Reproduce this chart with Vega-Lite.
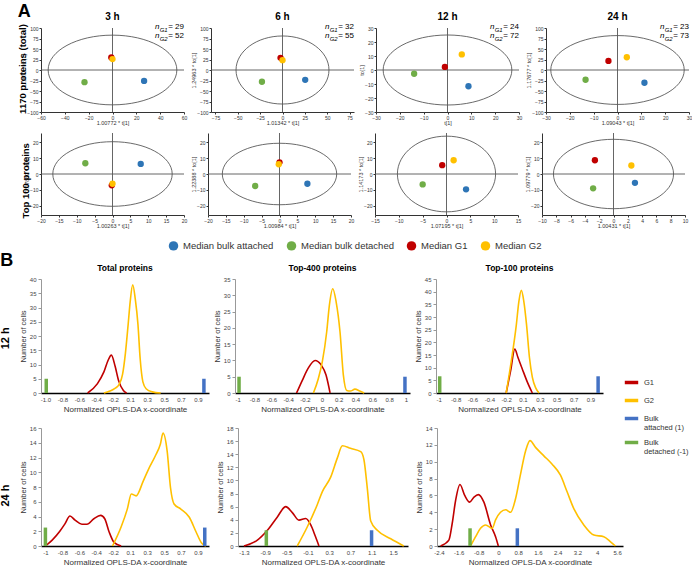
{
"$schema": "https://vega.github.io/schema/vega-lite/v6.json",
"background": "white",
"padding": {"left": 0, "top": 3, "right": 0, "bottom": 0},
"config": {
  "font": "Liberation Sans",
  "view": {"stroke": null},
  "axis": {"grid": false, "labelFlush": false, "labelOverlap": false, "tickCount": 12, "labelFontSize": 5, "titleFontSize": 5.5, "titleFontWeight": "normal", "tickSize": 2, "labelPadding": 1, "titlePadding": 0.5, "domainColor": "#333", "tickColor": "#333", "labelColor": "#333", "titleColor": "#333"},
  "style": {
    "bx": {"labelFontSize": 6, "titleFontSize": 8, "domainColor": "#000", "domainWidth": 1.5, "ticks": false, "labelPadding": 3, "titlePadding": 3, "labelColor": "#444", "titleColor": "#333"},
    "by": {"labelFontSize": 6, "titleFontSize": 7.5, "domainColor": "#999", "tickColor": "#999", "tickSize": 3, "labelPadding": 2, "titlePadding": 2, "labelColor": "#444", "titleColor": "#333"}
  },
  "legend": {"layout": {"bottom": {"anchor": "middle"}, "right": {"anchor": "middle"}}},
  "title": {"color": "#000"}
},
"datasets": {
  "A": [
    {"time":"3 h","set":"total","group":"Median bulk attached","t":26.5,"to":-26},
    {"time":"3 h","set":"total","group":"Median bulk detached","t":-23.5,"to":-29},
    {"time":"3 h","set":"total","group":"Median G1","t":-1,"to":30},
    {"time":"3 h","set":"total","group":"Median G2","t":0,"to":26},
    {"time":"6 h","set":"total","group":"Median bulk attached","t":25.4,"to":-23.5},
    {"time":"6 h","set":"total","group":"Median bulk detached","t":-23,"to":-28},
    {"time":"6 h","set":"total","group":"Median G1","t":-2.2,"to":29},
    {"time":"6 h","set":"total","group":"Median G2","t":0,"to":23.5},
    {"time":"12 h","set":"total","group":"Median bulk attached","t":8.8,"to":-11.6},
    {"time":"12 h","set":"total","group":"Median bulk detached","t":-14,"to":-2.7},
    {"time":"12 h","set":"total","group":"Median G1","t":-1.1,"to":2.2},
    {"time":"12 h","set":"total","group":"Median G2","t":6,"to":11.1},
    {"time":"24 h","set":"total","group":"Median bulk attached","t":11.3,"to":-30.4},
    {"time":"24 h","set":"total","group":"Median bulk detached","t":-13.4,"to":-23.2},
    {"time":"24 h","set":"total","group":"Median G1","t":-3.8,"to":21.6},
    {"time":"24 h","set":"total","group":"Median G2","t":3.9,"to":30.4},
    {"time":"3 h","set":"top100","group":"Median bulk attached","t":7.9,"to":6.4},
    {"time":"3 h","set":"top100","group":"Median bulk detached","t":-7.6,"to":6.8},
    {"time":"3 h","set":"top100","group":"Median G1","t":-0.2,"to":-7.2},
    {"time":"3 h","set":"top100","group":"Median G2","t":0,"to":-6.2},
    {"time":"6 h","set":"top100","group":"Median bulk attached","t":7.8,"to":-6.2},
    {"time":"6 h","set":"top100","group":"Median bulk detached","t":-6.8,"to":-7.6},
    {"time":"6 h","set":"top100","group":"Median G1","t":0,"to":7.4},
    {"time":"6 h","set":"top100","group":"Median G2","t":-0.2,"to":6.2},
    {"time":"12 h","set":"top100","group":"Median bulk attached","t":4.1,"to":-9.7},
    {"time":"12 h","set":"top100","group":"Median bulk detached","t":-5,"to":-6.6},
    {"time":"12 h","set":"top100","group":"Median G1","t":-0.9,"to":5.6},
    {"time":"12 h","set":"top100","group":"Median G2","t":1.5,"to":8.7},
    {"time":"24 h","set":"top100","group":"Median bulk attached","t":3,"to":-5.6},
    {"time":"24 h","set":"top100","group":"Median bulk detached","t":-2.85,"to":-9.1},
    {"time":"24 h","set":"top100","group":"Median G1","t":-2.6,"to":8.7},
    {"time":"24 h","set":"top100","group":"Median G2","t":2.5,"to":5.4}
  ],
  "E": [
    {"time":"3 h","set":"total","t":0,"to":0},
    {"time":"6 h","set":"total","t":0,"to":0},
    {"time":"12 h","set":"total","t":0,"to":0},
    {"time":"24 h","set":"total","t":0,"to":0},
    {"time":"3 h","set":"top100","t":0,"to":0},
    {"time":"6 h","set":"top100","t":0,"to":0},
    {"time":"12 h","set":"top100","t":0,"to":0},
    {"time":"24 h","set":"top100","t":0,"to":0}
  ],
  "N": [
    {"time":"3 h","grp":"G1","n":29},{"time":"3 h","grp":"G2","n":52},
    {"time":"6 h","grp":"G1","n":32},{"time":"6 h","grp":"G2","n":55},
    {"time":"12 h","grp":"G1","n":24},{"time":"12 h","grp":"G2","n":72},
    {"time":"24 h","grp":"G1","n":23},{"time":"24 h","grp":"G2","n":73}
  ],
  "curves": [
    {"panel":"12h total","series":"G1","pos":2.49,"cells":0},{"panel":"12h total","series":"G1","pos":3.07,"cells":3.3},{"panel":"12h total","series":"G1","pos":3.45,"cells":7.4},{"panel":"12h total","series":"G1","pos":3.7,"cells":11.5},{"panel":"12h total","series":"G1","pos":3.89,"cells":13.3},{"panel":"12h total","series":"G1","pos":4.12,"cells":9.2},{"panel":"12h total","series":"G1","pos":4.31,"cells":4.5},{"panel":"12h total","series":"G1","pos":4.6,"cells":0.9},{"panel":"12h total","series":"G1","pos":4.79,"cells":0},
    {"panel":"12h total","series":"G2","pos":3.45,"cells":0},{"panel":"12h total","series":"G2","pos":3.8,"cells":0.7},{"panel":"12h total","series":"G2","pos":4.1,"cells":1.6},{"panel":"12h total","series":"G2","pos":4.35,"cells":3},{"panel":"12h total","series":"G2","pos":4.55,"cells":6.5},{"panel":"12h total","series":"G2","pos":4.72,"cells":14},{"panel":"12h total","series":"G2","pos":4.88,"cells":24},{"panel":"12h total","series":"G2","pos":5.0,"cells":32},{"panel":"12h total","series":"G2","pos":5.15,"cells":38},{"panel":"12h total","series":"G2","pos":5.3,"cells":33},{"panel":"12h total","series":"G2","pos":5.46,"cells":24},{"panel":"12h total","series":"G2","pos":5.59,"cells":12},{"panel":"12h total","series":"G2","pos":5.75,"cells":3.9},{"panel":"12h total","series":"G2","pos":5.94,"cells":1.5},{"panel":"12h total","series":"G2","pos":6.3,"cells":0.4},{"panel":"12h total","series":"G2","pos":6.8,"cells":0},
    {"panel":"12h top400","series":"G1","pos":3.5,"cells":0},{"panel":"12h top400","series":"G1","pos":3.84,"cells":3.9},{"panel":"12h top400","series":"G1","pos":4.2,"cells":7.7},{"panel":"12h top400","series":"G1","pos":4.6,"cells":10},{"panel":"12h top400","series":"G1","pos":4.95,"cells":8.7},{"panel":"12h top400","series":"G1","pos":5.25,"cells":5.5},{"panel":"12h top400","series":"G1","pos":5.49,"cells":0},
    {"panel":"12h top400","series":"G2","pos":4.5,"cells":0},{"panel":"12h top400","series":"G2","pos":4.79,"cells":4.4},{"panel":"12h top400","series":"G2","pos":5.03,"cells":9.6},{"panel":"12h top400","series":"G2","pos":5.29,"cells":18.8},{"panel":"12h top400","series":"G2","pos":5.45,"cells":27},{"panel":"12h top400","series":"G2","pos":5.65,"cells":32},{"panel":"12h top400","series":"G2","pos":5.85,"cells":28},{"panel":"12h top400","series":"G2","pos":6.08,"cells":18.8},{"panel":"12h top400","series":"G2","pos":6.28,"cells":5.5},{"panel":"12h top400","series":"G2","pos":6.48,"cells":0.8},{"panel":"12h top400","series":"G2","pos":6.7,"cells":0.6},{"panel":"12h top400","series":"G2","pos":6.97,"cells":1.2},{"panel":"12h top400","series":"G2","pos":7.25,"cells":0.6},{"panel":"12h top400","series":"G2","pos":7.52,"cells":0},
    {"panel":"12h top100","series":"G1","pos":4.0,"cells":0},{"panel":"12h top100","series":"G1","pos":4.26,"cells":8.6},{"panel":"12h top100","series":"G1","pos":4.51,"cells":17.3},{"panel":"12h top100","series":"G1","pos":4.7,"cells":14},{"panel":"12h top100","series":"G1","pos":4.95,"cells":9.6},{"panel":"12h top100","series":"G1","pos":5.25,"cells":4.4},{"panel":"12h top100","series":"G1","pos":5.55,"cells":0},
    {"panel":"12h top100","series":"G2","pos":4.0,"cells":0},{"panel":"12h top100","series":"G2","pos":4.3,"cells":12.5},{"panel":"12h top100","series":"G2","pos":4.6,"cells":26.8},{"panel":"12h top100","series":"G2","pos":4.75,"cells":36},{"panel":"12h top100","series":"G2","pos":4.9,"cells":40.5},{"panel":"12h top100","series":"G2","pos":5.05,"cells":36},{"panel":"12h top100","series":"G2","pos":5.21,"cells":26.8},{"panel":"12h top100","series":"G2","pos":5.38,"cells":14},{"panel":"12h top100","series":"G2","pos":5.55,"cells":6.3},{"panel":"12h top100","series":"G2","pos":5.75,"cells":2},{"panel":"12h top100","series":"G2","pos":5.95,"cells":0},
    {"panel":"24h total","series":"G1","pos":0,"cells":0},{"panel":"24h total","series":"G1","pos":0.4,"cells":0.8},{"panel":"24h total","series":"G1","pos":0.85,"cells":2},{"panel":"24h total","series":"G1","pos":1.15,"cells":3.0},{"panel":"24h total","series":"G1","pos":1.45,"cells":4.06},{"panel":"24h total","series":"G1","pos":1.75,"cells":3.5},{"panel":"24h total","series":"G1","pos":2.15,"cells":2.95},{"panel":"24h total","series":"G1","pos":2.45,"cells":2.95},{"panel":"24h total","series":"G1","pos":2.86,"cells":3.7},{"panel":"24h total","series":"G1","pos":3.26,"cells":4.15},{"panel":"24h total","series":"G1","pos":3.5,"cells":3.7},{"panel":"24h total","series":"G1","pos":3.76,"cells":1.9},{"panel":"24h total","series":"G1","pos":4.06,"cells":0.45},{"panel":"24h total","series":"G1","pos":4.47,"cells":0},
    {"panel":"24h total","series":"G2","pos":3.96,"cells":0},{"panel":"24h total","series":"G2","pos":4.47,"cells":2.6},{"panel":"24h total","series":"G2","pos":4.83,"cells":5.0},{"panel":"24h total","series":"G2","pos":5.07,"cells":7.05},{"panel":"24h total","series":"G2","pos":5.35,"cells":6.8},{"panel":"24h total","series":"G2","pos":5.77,"cells":8.8},{"panel":"24h total","series":"G2","pos":6.08,"cells":10.4},{"panel":"24h total","series":"G2","pos":6.48,"cells":12.2},{"panel":"24h total","series":"G2","pos":6.78,"cells":13.8},{"panel":"24h total","series":"G2","pos":6.94,"cells":15.3},{"panel":"24h total","series":"G2","pos":7.18,"cells":12.9},{"panel":"24h total","series":"G2","pos":7.38,"cells":7.9},{"panel":"24h total","series":"G2","pos":7.59,"cells":5.7},{"panel":"24h total","series":"G2","pos":7.99,"cells":5.0},{"panel":"24h total","series":"G2","pos":8.49,"cells":3.9},{"panel":"24h total","series":"G2","pos":8.89,"cells":1.9},{"panel":"24h total","series":"G2","pos":9.2,"cells":0.45},{"panel":"24h total","series":"G2","pos":9.46,"cells":0},
    {"panel":"24h top400","series":"G1","pos":0,"cells":0},{"panel":"24h top400","series":"G1","pos":0.63,"cells":0.9},{"panel":"24h top400","series":"G1","pos":1.1,"cells":2.4},{"panel":"24h top400","series":"G1","pos":1.56,"cells":4.4},{"panel":"24h top400","series":"G1","pos":1.96,"cells":6.0},{"panel":"24h top400","series":"G1","pos":2.27,"cells":5.1},{"panel":"24h top400","series":"G1","pos":2.58,"cells":3.95},{"panel":"24h top400","series":"G1","pos":2.9,"cells":4.2},{"panel":"24h top400","series":"G1","pos":3.13,"cells":3.25},{"panel":"24h top400","series":"G1","pos":3.36,"cells":1.4},{"panel":"24h top400","series":"G1","pos":3.52,"cells":0},
    {"panel":"24h top400","series":"G2","pos":2.5,"cells":0},{"panel":"24h top400","series":"G2","pos":2.97,"cells":2.9},{"panel":"24h top400","series":"G2","pos":3.44,"cells":6.3},{"panel":"24h top400","series":"G2","pos":3.68,"cells":8.3},{"panel":"24h top400","series":"G2","pos":4.07,"cells":10.5},{"panel":"24h top400","series":"G2","pos":4.38,"cells":13.4},{"panel":"24h top400","series":"G2","pos":4.62,"cells":15.3},{"panel":"24h top400","series":"G2","pos":5.0,"cells":14.9},{"panel":"24h top400","series":"G2","pos":5.48,"cells":14.4},{"panel":"24h top400","series":"G2","pos":5.63,"cells":13.2},{"panel":"24h top400","series":"G2","pos":5.79,"cells":8.8},{"panel":"24h top400","series":"G2","pos":5.95,"cells":3.8},{"panel":"24h top400","series":"G2","pos":6.26,"cells":2.4},{"panel":"24h top400","series":"G2","pos":6.89,"cells":1.1},{"panel":"24h top400","series":"G2","pos":7.5,"cells":0},
    {"panel":"24h top100","series":"G1","pos":0.08,"cells":0},{"panel":"24h top100","series":"G1","pos":0.5,"cells":0.7},{"panel":"24h top100","series":"G1","pos":0.67,"cells":2.7},{"panel":"24h top100","series":"G1","pos":0.84,"cells":5.4},{"panel":"24h top100","series":"G1","pos":1.06,"cells":7.3},{"panel":"24h top100","series":"G1","pos":1.3,"cells":6.0},{"panel":"24h top100","series":"G1","pos":1.55,"cells":5.2},{"panel":"24h top100","series":"G1","pos":1.77,"cells":5.8},{"panel":"24h top100","series":"G1","pos":1.99,"cells":6.1},{"panel":"24h top100","series":"G1","pos":2.27,"cells":5.2},{"panel":"24h top100","series":"G1","pos":2.61,"cells":2.5},{"panel":"24h top100","series":"G1","pos":2.86,"cells":1.1},{"panel":"24h top100","series":"G1","pos":3.0,"cells":0},
    {"panel":"24h top100","series":"G2","pos":1.6,"cells":0},{"panel":"24h top100","series":"G2","pos":1.85,"cells":1.1},{"panel":"24h top100","series":"G2","pos":2.1,"cells":2.1},{"panel":"24h top100","series":"G2","pos":2.36,"cells":2.5},{"panel":"24h top100","series":"G2","pos":2.69,"cells":2.1},{"panel":"24h top100","series":"G2","pos":2.86,"cells":3.1},{"panel":"24h top100","series":"G2","pos":3.11,"cells":4.0},{"panel":"24h top100","series":"G2","pos":3.37,"cells":4.3},{"panel":"24h top100","series":"G2","pos":3.62,"cells":4.0},{"panel":"24h top100","series":"G2","pos":3.87,"cells":5.6},{"panel":"24h top100","series":"G2","pos":4.12,"cells":8.5},{"panel":"24h top100","series":"G2","pos":4.38,"cells":11.3},{"panel":"24h top100","series":"G2","pos":4.6,"cells":12.5},{"panel":"24h top100","series":"G2","pos":4.88,"cells":11.7},{"panel":"24h top100","series":"G2","pos":5.3,"cells":10.7},{"panel":"24h top100","series":"G2","pos":5.72,"cells":9.7},{"panel":"24h top100","series":"G2","pos":6.14,"cells":8.4},{"panel":"24h top100","series":"G2","pos":6.48,"cells":6.4},{"panel":"24h top100","series":"G2","pos":6.82,"cells":4.4},{"panel":"24h top100","series":"G2","pos":7.32,"cells":2.5},{"panel":"24h top100","series":"G2","pos":7.83,"cells":1.3},{"panel":"24h top100","series":"G2","pos":8.33,"cells":1.1},{"panel":"24h top100","series":"G2","pos":8.67,"cells":0.5},{"panel":"24h top100","series":"G2","pos":8.92,"cells":0}
  ],
  "bars": [
    {"panel":"12h total","series":"Bulk detached (-1)","pos":0.05,"cells":5},{"panel":"12h total","series":"Bulk attached (1)","pos":9.35,"cells":5},
    {"panel":"12h top400","series":"Bulk detached (-1)","pos":0.08,"cells":5},{"panel":"12h top400","series":"Bulk attached (1)","pos":9.94,"cells":5},
    {"panel":"12h top100","series":"Bulk detached (-1)","pos":0.06,"cells":6.6},{"panel":"12h top100","series":"Bulk attached (1)","pos":9.45,"cells":6.6},
    {"panel":"24h total","series":"Bulk detached (-1)","pos":0.0,"cells":2.5},{"panel":"24h total","series":"Bulk attached (1)","pos":9.4,"cells":2.5},
    {"panel":"24h top400","series":"Bulk detached (-1)","pos":1.05,"cells":2.4},{"panel":"24h top400","series":"Bulk attached (1)","pos":5.99,"cells":2.4},
    {"panel":"24h top100","series":"Bulk detached (-1)","pos":1.57,"cells":2.1},{"panel":"24h top100","series":"Bulk attached (1)","pos":3.96,"cells":2.1}
  ]
},
"spacing": 0,
"resolve": {"scale": {"color": "independent"}, "legend": {"color": "independent"}},
"vconcat": [
 {
  "title": {"text": "A", "anchor": "start", "fontSize": 18, "fontWeight": "bold", "offset": -9, "frame": "bounds"},
  "spacing": 6,
  "vconcat": [
   {
    "title": {"text": "1170 proteins (total)", "orient": "left", "anchor": "middle", "fontSize": 9.5, "fontWeight": "bold", "offset": -6},
    "spacing": 4,
    "hconcat": [
     {
      "width": 143, "height": 84,
      "title": {"text": "3 h", "fontSize": 10, "fontWeight": "bold", "frame": "group", "offset": 1},
      "layer": [
       {"data": {"name": "E"}, "transform": [{"filter": "datum.time=='3 h' && datum.set=='total'"}], "mark": {"type": "point", "shape": "M -1 0 C -1 -0.2992 -0.5523 -0.5417 0 -0.5417 C 0.5523 -0.5417 1 -0.2992 1 0 C 1 0.2992 0.5523 0.5417 0 0.5417 C -0.5523 0.5417 -1 0.2992 -1 0 Z", "size": 16564, "filled": false, "stroke": "#444", "strokeWidth": 0.8, "opacity": 1}, "encoding": {"x": {"field": "t", "type": "quantitative"}, "y": {"field": "to", "type": "quantitative"}}},
       {"data": {"name": "E"}, "transform": [{"filter": "datum.time=='3 h' && datum.set=='total'"}], "mark": {"type": "rule", "color": "#555", "strokeWidth": 0.9}, "encoding": {"x": {"field": "t", "type": "quantitative"}}},
       {"data": {"name": "E"}, "transform": [{"filter": "datum.time=='3 h' && datum.set=='total'"}], "mark": {"type": "rule", "color": "#555", "strokeWidth": 0.9}, "encoding": {"y": {"field": "to", "type": "quantitative"}}},
       {"data": {"name": "A"}, "transform": [{"filter": "datum.time=='3 h' && datum.set=='total'"}], "mark": {"type": "circle", "size": 40, "opacity": 1},
        "encoding": {
         "x": {"field": "t", "type": "quantitative", "scale": {"domain": [-60, 60], "nice": false}, "axis": {"labelOverlap": false, "tickCount": 12, "format": "d", "values": [-60,-40,-20,0,20,40,60], "title": "1.00772 * t[1]"}},
         "y": {"field": "to", "type": "quantitative", "scale": {"domain": [-100, 100], "nice": false}, "axis": {"labelOverlap": false, "tickCount": 12, "format": "d", "values": [-100,-75,-50,-25,0,25,50,75,100], "title": "1.1873 * to[1]"}},
         "color": {"field": "group", "type": "nominal", "scale": {"domain": ["Median bulk attached","Median bulk detached","Median G1","Median G2"], "range": ["#2e75b6","#70ad47","#c00000","#ffc000"]},
                   "legend": {"orient": "bottom", "direction": "horizontal", "title": null, "symbolType": "circle", "symbolSize": 90, "symbolOpacity": 1, "labelFontSize": 9.5, "labelColor": "#333", "columnPadding": 12, "offset": 11}}}},
       {"data": {"name": "N"}, "transform": [{"filter": "datum.time=='3 h' && datum.grp=='G1'"}], "mark": {"type": "text", "text": "n", "fontStyle": "italic", "fontSize": 8, "align": "right", "baseline": "middle", "dx": -24.5, "dy": -1}, "encoding": {"x": {"datum": 60}, "y": {"datum": 100}}},
       {"data": {"name": "N"}, "transform": [{"filter": "datum.time=='3 h' && datum.grp=='G1'"}], "mark": {"type": "text", "fontStyle": "italic", "fontSize": 6, "align": "right", "baseline": "middle", "dx": -16.3, "dy": 1.5}, "encoding": {"x": {"datum": 60}, "y": {"datum": 100}, "text": {"field": "grp"}}},
       {"data": {"name": "N"}, "transform": [{"filter": "datum.time=='3 h' && datum.grp=='G1'"}, {"calculate": "'= ' + datum.n", "as": "lab"}], "mark": {"type": "text", "fontSize": 8, "align": "right", "baseline": "middle", "dy": -1}, "encoding": {"x": {"datum": 60}, "y": {"datum": 100}, "text": {"field": "lab"}}},
       {"data": {"name": "N"}, "transform": [{"filter": "datum.time=='3 h' && datum.grp=='G2'"}], "mark": {"type": "text", "text": "n", "fontStyle": "italic", "fontSize": 8, "align": "right", "baseline": "middle", "dx": -24.5, "dy": 8}, "encoding": {"x": {"datum": 60}, "y": {"datum": 100}}},
       {"data": {"name": "N"}, "transform": [{"filter": "datum.time=='3 h' && datum.grp=='G2'"}], "mark": {"type": "text", "fontStyle": "italic", "fontSize": 6, "align": "right", "baseline": "middle", "dx": -16.3, "dy": 10.5}, "encoding": {"x": {"datum": 60}, "y": {"datum": 100}, "text": {"field": "grp"}}},
       {"data": {"name": "N"}, "transform": [{"filter": "datum.time=='3 h' && datum.grp=='G2'"}, {"calculate": "'= ' + datum.n", "as": "lab"}], "mark": {"type": "text", "fontSize": 8, "align": "right", "baseline": "middle", "dy": 8}, "encoding": {"x": {"datum": 60}, "y": {"datum": 100}, "text": {"field": "lab"}}}
      ]
     },
     {
      "width": 143, "height": 84,
      "title": {"text": "6 h", "fontSize": 10, "fontWeight": "bold", "frame": "group", "offset": 1},
      "layer": [
       {"data": {"name": "E"}, "transform": [{"filter": "datum.time=='6 h' && datum.set=='total'"}], "mark": {"type": "point", "shape": "M -1 0 C -1 -0.4043 -0.5523 -0.732 0 -0.732 C 0.5523 -0.732 1 -0.4043 1 0 C 1 0.4043 0.5523 0.732 0 0.732 C -0.5523 0.732 -1 0.4043 -1 0 Z", "size": 8640, "filled": false, "stroke": "#444", "strokeWidth": 0.8, "opacity": 1}, "encoding": {"x": {"field": "t", "type": "quantitative"}, "y": {"field": "to", "type": "quantitative"}}},
       {"data": {"name": "E"}, "transform": [{"filter": "datum.time=='6 h' && datum.set=='total'"}], "mark": {"type": "rule", "color": "#555", "strokeWidth": 0.9}, "encoding": {"x": {"field": "t", "type": "quantitative"}}},
       {"data": {"name": "E"}, "transform": [{"filter": "datum.time=='6 h' && datum.set=='total'"}], "mark": {"type": "rule", "color": "#555", "strokeWidth": 0.9}, "encoding": {"y": {"field": "to", "type": "quantitative"}}},
       {"data": {"name": "A"}, "transform": [{"filter": "datum.time=='6 h' && datum.set=='total'"}], "mark": {"type": "circle", "size": 40, "opacity": 1},
        "encoding": {
         "x": {"field": "t", "type": "quantitative", "scale": {"domain": [-80, 80], "nice": false}, "axis": {"labelOverlap": false, "tickCount": 12, "format": "d", "values": [-75,-50,-25,0,25,50,75], "title": "1.01342 * t[1]"}},
         "y": {"field": "to", "type": "quantitative", "scale": {"domain": [-100, 100], "nice": false}, "axis": {"labelOverlap": false, "tickCount": 12, "format": "d", "values": [-100,-75,-50,-25,0,25,50,75,100], "title": "1.24963 * to[1]"}},
         "color": {"field": "group", "type": "nominal", "scale": {"domain": ["Median bulk attached","Median bulk detached","Median G1","Median G2"], "range": ["#2e75b6","#70ad47","#c00000","#ffc000"]}}}},
       {"data": {"name": "N"}, "transform": [{"filter": "datum.time=='6 h' && datum.grp=='G1'"}], "mark": {"type": "text", "text": "n", "fontStyle": "italic", "fontSize": 8, "align": "right", "baseline": "middle", "dx": -24.5, "dy": -1}, "encoding": {"x": {"datum": 80}, "y": {"datum": 100}}},
       {"data": {"name": "N"}, "transform": [{"filter": "datum.time=='6 h' && datum.grp=='G1'"}], "mark": {"type": "text", "fontStyle": "italic", "fontSize": 6, "align": "right", "baseline": "middle", "dx": -16.3, "dy": 1.5}, "encoding": {"x": {"datum": 80}, "y": {"datum": 100}, "text": {"field": "grp"}}},
       {"data": {"name": "N"}, "transform": [{"filter": "datum.time=='6 h' && datum.grp=='G1'"}, {"calculate": "'= ' + datum.n", "as": "lab"}], "mark": {"type": "text", "fontSize": 8, "align": "right", "baseline": "middle", "dy": -1}, "encoding": {"x": {"datum": 80}, "y": {"datum": 100}, "text": {"field": "lab"}}},
       {"data": {"name": "N"}, "transform": [{"filter": "datum.time=='6 h' && datum.grp=='G2'"}], "mark": {"type": "text", "text": "n", "fontStyle": "italic", "fontSize": 8, "align": "right", "baseline": "middle", "dx": -24.5, "dy": 8}, "encoding": {"x": {"datum": 80}, "y": {"datum": 100}}},
       {"data": {"name": "N"}, "transform": [{"filter": "datum.time=='6 h' && datum.grp=='G2'"}], "mark": {"type": "text", "fontStyle": "italic", "fontSize": 6, "align": "right", "baseline": "middle", "dx": -16.3, "dy": 10.5}, "encoding": {"x": {"datum": 80}, "y": {"datum": 100}, "text": {"field": "grp"}}},
       {"data": {"name": "N"}, "transform": [{"filter": "datum.time=='6 h' && datum.grp=='G2'"}, {"calculate": "'= ' + datum.n", "as": "lab"}], "mark": {"type": "text", "fontSize": 8, "align": "right", "baseline": "middle", "dy": 8}, "encoding": {"x": {"datum": 80}, "y": {"datum": 100}, "text": {"field": "lab"}}}
      ]
     },
     {
      "width": 143, "height": 84,
      "title": {"text": "12 h", "fontSize": 10, "fontWeight": "bold", "frame": "group", "offset": 1},
      "layer": [
       {"data": {"name": "E"}, "transform": [{"filter": "datum.time=='12 h' && datum.set=='total'"}], "mark": {"type": "point", "shape": "M -1 0 C -1 -0.3004 -0.5523 -0.544 0 -0.544 C 0.5523 -0.544 1 -0.3004 1 0 C 1 0.3004 0.5523 0.544 0 0.544 C -0.5523 0.544 -1 0.3004 -1 0 Z", "size": 16564, "filled": false, "stroke": "#444", "strokeWidth": 0.8, "opacity": 1}, "encoding": {"x": {"field": "t", "type": "quantitative"}, "y": {"field": "to", "type": "quantitative"}}},
       {"data": {"name": "E"}, "transform": [{"filter": "datum.time=='12 h' && datum.set=='total'"}], "mark": {"type": "rule", "color": "#555", "strokeWidth": 0.9}, "encoding": {"x": {"field": "t", "type": "quantitative"}}},
       {"data": {"name": "E"}, "transform": [{"filter": "datum.time=='12 h' && datum.set=='total'"}], "mark": {"type": "rule", "color": "#555", "strokeWidth": 0.9}, "encoding": {"y": {"field": "to", "type": "quantitative"}}},
       {"data": {"name": "A"}, "transform": [{"filter": "datum.time=='12 h' && datum.set=='total'"}], "mark": {"type": "circle", "size": 40, "opacity": 1},
        "encoding": {
         "x": {"field": "t", "type": "quantitative", "scale": {"domain": [-30, 30], "nice": false}, "axis": {"labelOverlap": false, "tickCount": 12, "format": "d", "values": [-30,-20,-10,0,10,20,30], "title": "t[1]"}},
         "y": {"field": "to", "type": "quantitative", "scale": {"domain": [-30, 30], "nice": false}, "axis": {"labelOverlap": false, "tickCount": 12, "format": "d", "values": [-30,-20,-10,0,10,20,30], "title": "to[1]"}},
         "color": {"field": "group", "type": "nominal", "scale": {"domain": ["Median bulk attached","Median bulk detached","Median G1","Median G2"], "range": ["#2e75b6","#70ad47","#c00000","#ffc000"]}}}},
       {"data": {"name": "N"}, "transform": [{"filter": "datum.time=='12 h' && datum.grp=='G1'"}], "mark": {"type": "text", "text": "n", "fontStyle": "italic", "fontSize": 8, "align": "right", "baseline": "middle", "dx": -24.5, "dy": -1}, "encoding": {"x": {"datum": 30}, "y": {"datum": 30}}},
       {"data": {"name": "N"}, "transform": [{"filter": "datum.time=='12 h' && datum.grp=='G1'"}], "mark": {"type": "text", "fontStyle": "italic", "fontSize": 6, "align": "right", "baseline": "middle", "dx": -16.3, "dy": 1.5}, "encoding": {"x": {"datum": 30}, "y": {"datum": 30}, "text": {"field": "grp"}}},
       {"data": {"name": "N"}, "transform": [{"filter": "datum.time=='12 h' && datum.grp=='G1'"}, {"calculate": "'= ' + datum.n", "as": "lab"}], "mark": {"type": "text", "fontSize": 8, "align": "right", "baseline": "middle", "dy": -1}, "encoding": {"x": {"datum": 30}, "y": {"datum": 30}, "text": {"field": "lab"}}},
       {"data": {"name": "N"}, "transform": [{"filter": "datum.time=='12 h' && datum.grp=='G2'"}], "mark": {"type": "text", "text": "n", "fontStyle": "italic", "fontSize": 8, "align": "right", "baseline": "middle", "dx": -24.5, "dy": 8}, "encoding": {"x": {"datum": 30}, "y": {"datum": 30}}},
       {"data": {"name": "N"}, "transform": [{"filter": "datum.time=='12 h' && datum.grp=='G2'"}], "mark": {"type": "text", "fontStyle": "italic", "fontSize": 6, "align": "right", "baseline": "middle", "dx": -16.3, "dy": 10.5}, "encoding": {"x": {"datum": 30}, "y": {"datum": 30}, "text": {"field": "grp"}}},
       {"data": {"name": "N"}, "transform": [{"filter": "datum.time=='12 h' && datum.grp=='G2'"}, {"calculate": "'= ' + datum.n", "as": "lab"}], "mark": {"type": "text", "fontSize": 8, "align": "right", "baseline": "middle", "dy": 8}, "encoding": {"x": {"datum": 30}, "y": {"datum": 30}, "text": {"field": "lab"}}}
      ]
     },
     {
      "width": 143, "height": 84,
      "title": {"text": "24 h", "fontSize": 10, "fontWeight": "bold", "frame": "group", "offset": 1},
      "layer": [
       {"data": {"name": "E"}, "transform": [{"filter": "datum.time=='24 h' && datum.set=='total'"}], "mark": {"type": "point", "shape": "M -1 0 C -1 -0.285 -0.5523 -0.516 0 -0.516 C 0.5523 -0.516 1 -0.285 1 0 C 1 0.285 0.5523 0.516 0 0.516 C -0.5523 0.516 -1 0.285 -1 0 Z", "size": 17814, "filled": false, "stroke": "#444", "strokeWidth": 0.8, "opacity": 1}, "encoding": {"x": {"field": "t", "type": "quantitative"}, "y": {"field": "to", "type": "quantitative"}}},
       {"data": {"name": "E"}, "transform": [{"filter": "datum.time=='24 h' && datum.set=='total'"}], "mark": {"type": "rule", "color": "#555", "strokeWidth": 0.9}, "encoding": {"x": {"field": "t", "type": "quantitative"}}},
       {"data": {"name": "E"}, "transform": [{"filter": "datum.time=='24 h' && datum.set=='total'"}], "mark": {"type": "rule", "color": "#555", "strokeWidth": 0.9}, "encoding": {"y": {"field": "to", "type": "quantitative"}}},
       {"data": {"name": "A"}, "transform": [{"filter": "datum.time=='24 h' && datum.set=='total'"}], "mark": {"type": "circle", "size": 40, "opacity": 1},
        "encoding": {
         "x": {"field": "t", "type": "quantitative", "scale": {"domain": [-30, 30], "nice": false}, "axis": {"labelOverlap": false, "tickCount": 12, "format": "d", "values": [-30,-20,-10,0,10,20,30], "title": "1.09043 * t[1]"}},
         "y": {"field": "to", "type": "quantitative", "scale": {"domain": [-100, 100], "nice": false}, "axis": {"labelOverlap": false, "tickCount": 12, "format": "d", "values": [-100,-75,-50,-25,0,25,50,75,100], "title": "1.17677 * to[1]"}},
         "color": {"field": "group", "type": "nominal", "scale": {"domain": ["Median bulk attached","Median bulk detached","Median G1","Median G2"], "range": ["#2e75b6","#70ad47","#c00000","#ffc000"]}}}},
       {"data": {"name": "N"}, "transform": [{"filter": "datum.time=='24 h' && datum.grp=='G1'"}], "mark": {"type": "text", "text": "n", "fontStyle": "italic", "fontSize": 8, "align": "right", "baseline": "middle", "dx": -24.5, "dy": -1}, "encoding": {"x": {"datum": 30}, "y": {"datum": 100}}},
       {"data": {"name": "N"}, "transform": [{"filter": "datum.time=='24 h' && datum.grp=='G1'"}], "mark": {"type": "text", "fontStyle": "italic", "fontSize": 6, "align": "right", "baseline": "middle", "dx": -16.3, "dy": 1.5}, "encoding": {"x": {"datum": 30}, "y": {"datum": 100}, "text": {"field": "grp"}}},
       {"data": {"name": "N"}, "transform": [{"filter": "datum.time=='24 h' && datum.grp=='G1'"}, {"calculate": "'= ' + datum.n", "as": "lab"}], "mark": {"type": "text", "fontSize": 8, "align": "right", "baseline": "middle", "dy": -1}, "encoding": {"x": {"datum": 30}, "y": {"datum": 100}, "text": {"field": "lab"}}},
       {"data": {"name": "N"}, "transform": [{"filter": "datum.time=='24 h' && datum.grp=='G2'"}], "mark": {"type": "text", "text": "n", "fontStyle": "italic", "fontSize": 8, "align": "right", "baseline": "middle", "dx": -24.5, "dy": 8}, "encoding": {"x": {"datum": 30}, "y": {"datum": 100}}},
       {"data": {"name": "N"}, "transform": [{"filter": "datum.time=='24 h' && datum.grp=='G2'"}], "mark": {"type": "text", "fontStyle": "italic", "fontSize": 6, "align": "right", "baseline": "middle", "dx": -16.3, "dy": 10.5}, "encoding": {"x": {"datum": 30}, "y": {"datum": 100}, "text": {"field": "grp"}}},
       {"data": {"name": "N"}, "transform": [{"filter": "datum.time=='24 h' && datum.grp=='G2'"}, {"calculate": "'= ' + datum.n", "as": "lab"}], "mark": {"type": "text", "fontSize": 8, "align": "right", "baseline": "middle", "dy": 8}, "encoding": {"x": {"datum": 30}, "y": {"datum": 100}, "text": {"field": "lab"}}}
      ]
     }
    ]
   },
   {
    "title": {"text": "Top 100 proteins", "orient": "left", "anchor": "middle", "fontSize": 9.5, "fontWeight": "bold", "offset": -6},
    "spacing": 4,
    "hconcat": [
     {
      "width": 143, "height": 82,
      "layer": [
       {"data": {"name": "E"}, "transform": [{"filter": "datum.time=='3 h' && datum.set=='top100'"}], "mark": {"type": "point", "shape": "M -1 0 C -1 -0.2988 -0.5523 -0.541 0 -0.541 C 0.5523 -0.541 1 -0.2988 1 0 C 1 0.2988 0.5523 0.541 0 0.541 C -0.5523 0.541 -1 0.2988 -1 0 Z", "size": 14256, "filled": false, "stroke": "#444", "strokeWidth": 0.8, "opacity": 1}, "encoding": {"x": {"field": "t", "type": "quantitative"}, "y": {"field": "to", "type": "quantitative"}}},
       {"data": {"name": "E"}, "transform": [{"filter": "datum.time=='3 h' && datum.set=='top100'"}], "mark": {"type": "rule", "color": "#555", "strokeWidth": 0.9}, "encoding": {"x": {"field": "t", "type": "quantitative"}}},
       {"data": {"name": "E"}, "transform": [{"filter": "datum.time=='3 h' && datum.set=='top100'"}], "mark": {"type": "rule", "color": "#555", "strokeWidth": 0.9}, "encoding": {"y": {"field": "to", "type": "quantitative"}}},
       {"data": {"name": "A"}, "transform": [{"filter": "datum.time=='3 h' && datum.set=='top100'"}], "mark": {"type": "circle", "size": 40, "opacity": 1},
        "encoding": {
         "x": {"field": "t", "type": "quantitative", "scale": {"domain": [-20, 20], "nice": false}, "axis": {"labelOverlap": false, "tickCount": 12, "format": "d", "values": [-20,-15,-10,-5,0,5,10,15,20], "title": "1.00263 * t[1]"}},
         "y": {"field": "to", "type": "quantitative", "scale": {"domain": [-26, 26], "nice": false}, "axis": {"labelOverlap": false, "tickCount": 12, "format": "d", "values": [-20,-10,0,10,20], "title": "1.07862 * to[1]"}},
         "color": {"field": "group", "type": "nominal", "scale": {"domain": ["Median bulk attached","Median bulk detached","Median G1","Median G2"], "range": ["#2e75b6","#70ad47","#c00000","#ffc000"]}}}}
      ]
     },
     {
      "width": 143, "height": 82,
      "layer": [
       {"data": {"name": "E"}, "transform": [{"filter": "datum.time=='6 h' && datum.set=='top100'"}], "mark": {"type": "point", "shape": "M -1 0 C -1 -0.2969 -0.5523 -0.5376 0 -0.5376 C 0.5523 -0.5376 1 -0.2969 1 0 C 1 0.2969 0.5523 0.5376 0 0.5376 C -0.5523 0.5376 -1 0.2969 -1 0 Z", "size": 13087, "filled": false, "stroke": "#444", "strokeWidth": 0.8, "opacity": 1}, "encoding": {"x": {"field": "t", "type": "quantitative"}, "y": {"field": "to", "type": "quantitative"}}},
       {"data": {"name": "E"}, "transform": [{"filter": "datum.time=='6 h' && datum.set=='top100'"}], "mark": {"type": "rule", "color": "#555", "strokeWidth": 0.9}, "encoding": {"x": {"field": "t", "type": "quantitative"}}},
       {"data": {"name": "E"}, "transform": [{"filter": "datum.time=='6 h' && datum.set=='top100'"}], "mark": {"type": "rule", "color": "#555", "strokeWidth": 0.9}, "encoding": {"y": {"field": "to", "type": "quantitative"}}},
       {"data": {"name": "A"}, "transform": [{"filter": "datum.time=='6 h' && datum.set=='top100'"}], "mark": {"type": "circle", "size": 40, "opacity": 1},
        "encoding": {
         "x": {"field": "t", "type": "quantitative", "scale": {"domain": [-20, 20], "nice": false}, "axis": {"labelOverlap": false, "tickCount": 12, "format": "d", "values": [-20,-15,-10,-5,0,5,10,15,20], "title": "1.00984 * t[1]"}},
         "y": {"field": "to", "type": "quantitative", "scale": {"domain": [-26, 26], "nice": false}, "axis": {"labelOverlap": false, "tickCount": 12, "format": "d", "values": [-20,-10,0,10,20], "title": "1.22388 * to[1]"}},
         "color": {"field": "group", "type": "nominal", "scale": {"domain": ["Median bulk attached","Median bulk detached","Median G1","Median G2"], "range": ["#2e75b6","#70ad47","#c00000","#ffc000"]}}}}
      ]
     },
     {
      "width": 143, "height": 82,
      "layer": [
       {"data": {"name": "E"}, "transform": [{"filter": "datum.time=='12 h' && datum.set=='top100'"}], "mark": {"type": "point", "shape": "M -1 0 C -1 -0.4258 -0.5523 -0.771 0 -0.771 C 0.5523 -0.771 1 -0.4258 1 0 C 1 0.4258 0.5523 0.771 0 0.771 C -0.5523 0.771 -1 0.4258 -1 0 Z", "size": 9643, "filled": false, "stroke": "#444", "strokeWidth": 0.8, "opacity": 1}, "encoding": {"x": {"field": "t", "type": "quantitative"}, "y": {"field": "to", "type": "quantitative"}}},
       {"data": {"name": "E"}, "transform": [{"filter": "datum.time=='12 h' && datum.set=='top100'"}], "mark": {"type": "rule", "color": "#555", "strokeWidth": 0.9}, "encoding": {"x": {"field": "t", "type": "quantitative"}}},
       {"data": {"name": "E"}, "transform": [{"filter": "datum.time=='12 h' && datum.set=='top100'"}], "mark": {"type": "rule", "color": "#555", "strokeWidth": 0.9}, "encoding": {"y": {"field": "to", "type": "quantitative"}}},
       {"data": {"name": "A"}, "transform": [{"filter": "datum.time=='12 h' && datum.set=='top100'"}], "mark": {"type": "circle", "size": 40, "opacity": 1},
        "encoding": {
         "x": {"field": "t", "type": "quantitative", "scale": {"domain": [-15, 15], "nice": false}, "axis": {"labelOverlap": false, "tickCount": 12, "format": "d", "values": [-15,-10,-5,0,5,10,15], "title": "1.07195 * t[1]"}},
         "y": {"field": "to", "type": "quantitative", "scale": {"domain": [-26, 26], "nice": false}, "axis": {"labelOverlap": false, "tickCount": 12, "format": "d", "values": [-20,-10,0,10,20], "title": "1.14173 * to[1]"}},
         "color": {"field": "group", "type": "nominal", "scale": {"domain": ["Median bulk attached","Median bulk detached","Median G1","Median G2"], "range": ["#2e75b6","#70ad47","#c00000","#ffc000"]}}}}
      ]
     },
     {
      "width": 143, "height": 82,
      "layer": [
       {"data": {"name": "E"}, "transform": [{"filter": "datum.time=='24 h' && datum.set=='top100'"}], "mark": {"type": "point", "shape": "M -1 0 C -1 -0.3192 -0.5523 -0.578 0 -0.578 C 0.5523 -0.578 1 -0.3192 1 0 C 1 0.3192 0.5523 0.578 0 0.578 C -0.5523 0.578 -1 0.3192 -1 0 Z", "size": 14424, "filled": false, "stroke": "#444", "strokeWidth": 0.8, "opacity": 1}, "encoding": {"x": {"field": "t", "type": "quantitative"}, "y": {"field": "to", "type": "quantitative"}}},
       {"data": {"name": "E"}, "transform": [{"filter": "datum.time=='24 h' && datum.set=='top100'"}], "mark": {"type": "rule", "color": "#555", "strokeWidth": 0.9}, "encoding": {"x": {"field": "t", "type": "quantitative"}}},
       {"data": {"name": "E"}, "transform": [{"filter": "datum.time=='24 h' && datum.set=='top100'"}], "mark": {"type": "rule", "color": "#555", "strokeWidth": 0.9}, "encoding": {"y": {"field": "to", "type": "quantitative"}}},
       {"data": {"name": "A"}, "transform": [{"filter": "datum.time=='24 h' && datum.set=='top100'"}], "mark": {"type": "circle", "size": 40, "opacity": 1},
        "encoding": {
         "x": {"field": "t", "type": "quantitative", "scale": {"domain": [-10, 10], "nice": false}, "axis": {"labelOverlap": false, "tickCount": 12, "format": "d", "values": [-10,-8,-6,-4,-2,0,2,4,6,8,10], "title": "1.00431 * t[1]"}},
         "y": {"field": "to", "type": "quantitative", "scale": {"domain": [-26, 26], "nice": false}, "axis": {"labelOverlap": false, "tickCount": 12, "format": "d", "values": [-20,-10,0,10,20], "title": "1.09779 * to[1]"}},
         "color": {"field": "group", "type": "nominal", "scale": {"domain": ["Median bulk attached","Median bulk detached","Median G1","Median G2"], "range": ["#2e75b6","#70ad47","#c00000","#ffc000"]}}}}
      ]
     }
    ]
   }
  ]
 },
 {
  "title": {"text": "B", "anchor": "start", "fontSize": 18, "fontWeight": "bold", "offset": -6, "frame": "bounds"},
  "spacing": 12,
  "vconcat": [
   {
    "title": {"text": "12 h", "orient": "left", "anchor": "middle", "fontSize": 11, "fontWeight": "bold", "offset": 8},
    "spacing": 4,
    "hconcat": [
     {
      "width": 168, "height": 114,
      "title": {"text": "Total proteins", "fontSize": 8.5, "fontWeight": "bold", "frame": "group", "offset": 4},
      "layer": [
       {"data": {"name": "curves"}, "transform": [{"filter": "datum.panel == '12h total'"}], "mark": {"type": "line", "interpolate": "monotone", "strokeWidth": 1.6},
        "encoding": {
         "x": {"field": "pos", "type": "quantitative", "scale": {"domain": [-0.26, 9.65], "nice": false, "zero": false}, "axis": {"style": "bx", "labelOverlap": false, "tickCount": 12, "values": [0,1,2,3,4,5,6,7,8,9], "labelExpr": "['-1.0','-0.8','-0.6','-0.4','-0.2','0.1','0.3','0.5','0.7','0.9'][datum.value]", "title": "Normalized OPLS-DA x-coordinate"}},
         "y": {"field": "cells", "type": "quantitative", "scale": {"domain": [0, 40], "nice": false}, "axis": {"style": "by", "labelOverlap": false, "tickCount": 12, "format": "d", "values": [0,5,10,15,20,25,30,35,40], "title": "Number of cells"}},
         "color": {"field": "series", "type": "nominal", "scale": {"domain": ["G1","G2","Bulk attached (1)","Bulk detached (-1)"], "range": ["#c00000","#ffc000","#4472c4","#70ad47"]},
                   "legend": {"orient": "right", "title": null, "symbolType": "stroke", "symbolStrokeWidth": 3.5, "symbolSize": 180, "labelFontSize": 7.5, "labelColor": "#333", "rowPadding": 2, "offset": 0, "labelExpr": "datum.label == 'Bulk attached (1)' ? ['Bulk', 'attached (1)'] : datum.label == 'Bulk detached (-1)' ? ['Bulk', 'detached (-1)'] : datum.label"}}}},
       {"data": {"name": "bars"}, "transform": [{"filter": "datum.panel == '12h total'"}], "mark": {"type": "rule", "strokeWidth": 3.5},
        "encoding": {"x": {"field": "pos", "type": "quantitative"}, "y": {"field": "cells", "type": "quantitative"}, "y2": {"datum": 0},
         "color": {"field": "series", "type": "nominal", "scale": {"domain": ["G1","G2","Bulk attached (1)","Bulk detached (-1)"], "range": ["#c00000","#ffc000","#4472c4","#70ad47"]}}}}
      ]
     },
     {
      "width": 175, "height": 114,
      "title": {"text": "Top-400 proteins", "fontSize": 8.5, "fontWeight": "bold", "frame": "group", "offset": 4},
      "layer": [
       {"data": {"name": "curves"}, "transform": [{"filter": "datum.panel == '12h top400'"}], "mark": {"type": "line", "interpolate": "monotone", "strokeWidth": 1.6},
        "encoding": {
         "x": {"field": "pos", "type": "quantitative", "scale": {"domain": [-0.16, 10.24], "nice": false, "zero": false}, "axis": {"style": "bx", "labelOverlap": false, "tickCount": 12, "values": [0,1,2,3,4,5,6,7,8,9,10], "labelExpr": "['-1','-0.8','-0.6','-0.4','-0.2','0','0.2','0.4','0.6','0.8','1'][datum.value]", "title": "Normalized OPLS-DA x-coordinate"}},
         "y": {"field": "cells", "type": "quantitative", "scale": {"domain": [0, 35], "nice": false}, "axis": {"style": "by", "labelOverlap": false, "tickCount": 12, "format": "d", "values": [0,5,10,15,20,25,30,35], "title": "Number of cells"}},
         "color": {"field": "series", "type": "nominal", "scale": {"domain": ["G1","G2","Bulk attached (1)","Bulk detached (-1)"], "range": ["#c00000","#ffc000","#4472c4","#70ad47"]}}}},
       {"data": {"name": "bars"}, "transform": [{"filter": "datum.panel == '12h top400'"}], "mark": {"type": "rule", "strokeWidth": 3.5},
        "encoding": {"x": {"field": "pos", "type": "quantitative"}, "y": {"field": "cells", "type": "quantitative"}, "y2": {"datum": 0},
         "color": {"field": "series", "type": "nominal", "scale": {"domain": ["G1","G2","Bulk attached (1)","Bulk detached (-1)"], "range": ["#c00000","#ffc000","#4472c4","#70ad47"]}}}}
      ]
     },
     {
      "width": 167, "height": 114,
      "title": {"text": "Top-100 proteins", "fontSize": 8.5, "fontWeight": "bold", "frame": "group", "offset": 4},
      "layer": [
       {"data": {"name": "curves"}, "transform": [{"filter": "datum.panel == '12h top100'"}], "mark": {"type": "line", "interpolate": "monotone", "strokeWidth": 1.6},
        "encoding": {
         "x": {"field": "pos", "type": "quantitative", "scale": {"domain": [-0.16, 9.74], "nice": false, "zero": false}, "axis": {"style": "bx", "labelOverlap": false, "tickCount": 12, "values": [0,1,2,3,4,5,6,7,8,9], "labelExpr": "['-1','-0.8','-0.6','-0.4','-0.2','0.1','0.3','0.5','0.7','0.9'][datum.value]", "title": "Normalized OPLS-DA x-coordinate"}},
         "y": {"field": "cells", "type": "quantitative", "scale": {"domain": [0, 45], "nice": false}, "axis": {"style": "by", "labelOverlap": false, "tickCount": 12, "format": "d", "values": [0,5,10,15,20,25,30,35,40,45], "title": "Number of cells"}},
         "color": {"field": "series", "type": "nominal", "scale": {"domain": ["G1","G2","Bulk attached (1)","Bulk detached (-1)"], "range": ["#c00000","#ffc000","#4472c4","#70ad47"]}}}},
       {"data": {"name": "bars"}, "transform": [{"filter": "datum.panel == '12h top100'"}], "mark": {"type": "rule", "strokeWidth": 3.5},
        "encoding": {"x": {"field": "pos", "type": "quantitative"}, "y": {"field": "cells", "type": "quantitative"}, "y2": {"datum": 0},
         "color": {"field": "series", "type": "nominal", "scale": {"domain": ["G1","G2","Bulk attached (1)","Bulk detached (-1)"], "range": ["#c00000","#ffc000","#4472c4","#70ad47"]}}}}
      ]
     }
    ]
   },
   {
    "title": {"text": "24 h", "orient": "left", "anchor": "middle", "fontSize": 11, "fontWeight": "bold", "offset": 8},
    "spacing": 7,
    "hconcat": [
     {
      "width": 168, "height": 118,
      "layer": [
       {"data": {"name": "curves"}, "transform": [{"filter": "datum.panel == '24h total'"}], "mark": {"type": "line", "interpolate": "monotone", "strokeWidth": 1.6},
        "encoding": {
         "x": {"field": "pos", "type": "quantitative", "scale": {"domain": [-0.26, 9.65], "nice": false, "zero": false}, "axis": {"style": "bx", "labelOverlap": false, "tickCount": 12, "values": [0,1,2,3,4,5,6,7,8,9], "labelExpr": "['-1','-0.8','-0.6','-0.4','-0.2','0.1','0.3','0.5','0.7','0.9'][datum.value]", "title": "Normalized OPLS-DA x-coordinate"}},
         "y": {"field": "cells", "type": "quantitative", "scale": {"domain": [0, 16], "nice": false}, "axis": {"style": "by", "labelOverlap": false, "tickCount": 12, "format": "d", "values": [0,2,4,6,8,10,12,14,16], "title": "Number of cells"}},
         "color": {"field": "series", "type": "nominal", "scale": {"domain": ["G1","G2","Bulk attached (1)","Bulk detached (-1)"], "range": ["#c00000","#ffc000","#4472c4","#70ad47"]}}}},
       {"data": {"name": "bars"}, "transform": [{"filter": "datum.panel == '24h total'"}], "mark": {"type": "rule", "strokeWidth": 3.5},
        "encoding": {"x": {"field": "pos", "type": "quantitative"}, "y": {"field": "cells", "type": "quantitative"}, "y2": {"datum": 0},
         "color": {"field": "series", "type": "nominal", "scale": {"domain": ["G1","G2","Bulk attached (1)","Bulk detached (-1)"], "range": ["#c00000","#ffc000","#4472c4","#70ad47"]}}}}
      ]
     },
     {
      "width": 170, "height": 118,
      "layer": [
       {"data": {"name": "curves"}, "transform": [{"filter": "datum.panel == '24h top400'"}], "mark": {"type": "line", "interpolate": "monotone", "strokeWidth": 1.6},
        "encoding": {
         "x": {"field": "pos", "type": "quantitative", "scale": {"domain": [-0.28, 7.7], "nice": false, "zero": false}, "axis": {"style": "bx", "labelOverlap": false, "tickCount": 12, "values": [0,1,2,3,4,5,6,7], "labelExpr": "['-1.3','-0.9','-0.5','-0.1','0.3','0.7','1.1','1.5'][datum.value]", "title": "Normalized OPLS-DA x-coordinate"}},
         "y": {"field": "cells", "type": "quantitative", "scale": {"domain": [0, 18], "nice": false}, "axis": {"style": "by", "labelOverlap": false, "tickCount": 12, "format": "d", "values": [0,2,4,6,8,10,12,14,16,18], "title": "Number of cells"}},
         "color": {"field": "series", "type": "nominal", "scale": {"domain": ["G1","G2","Bulk attached (1)","Bulk detached (-1)"], "range": ["#c00000","#ffc000","#4472c4","#70ad47"]}}}},
       {"data": {"name": "bars"}, "transform": [{"filter": "datum.panel == '24h top400'"}], "mark": {"type": "rule", "strokeWidth": 3.5},
        "encoding": {"x": {"field": "pos", "type": "quantitative"}, "y": {"field": "cells", "type": "quantitative"}, "y2": {"datum": 0},
         "color": {"field": "series", "type": "nominal", "scale": {"domain": ["G1","G2","Bulk attached (1)","Bulk detached (-1)"], "range": ["#c00000","#ffc000","#4472c4","#70ad47"]}}}}
      ]
     },
     {
      "width": 186, "height": 118,
      "layer": [
       {"data": {"name": "curves"}, "transform": [{"filter": "datum.panel == '24h top100'"}], "mark": {"type": "line", "interpolate": "monotone", "strokeWidth": 1.6},
        "encoding": {
         "x": {"field": "pos", "type": "quantitative", "scale": {"domain": [-0.1, 9.3], "nice": false, "zero": false}, "axis": {"style": "bx", "labelOverlap": false, "tickCount": 12, "values": [0,1,2,3,4,5,6,7,8,9], "labelExpr": "['-2.4','-1.6','-0.8','0','0.8','1.6','2.4','3.2','4','5.6'][datum.value]", "title": "Normalized OPLS-DA x-coordinate"}},
         "y": {"field": "cells", "type": "quantitative", "scale": {"domain": [0, 14], "nice": false}, "axis": {"style": "by", "labelOverlap": false, "tickCount": 12, "format": "d", "values": [0,2,4,6,8,10,12,14], "title": "Number of cells"}},
         "color": {"field": "series", "type": "nominal", "scale": {"domain": ["G1","G2","Bulk attached (1)","Bulk detached (-1)"], "range": ["#c00000","#ffc000","#4472c4","#70ad47"]}}}},
       {"data": {"name": "bars"}, "transform": [{"filter": "datum.panel == '24h top100'"}], "mark": {"type": "rule", "strokeWidth": 3.5},
        "encoding": {"x": {"field": "pos", "type": "quantitative"}, "y": {"field": "cells", "type": "quantitative"}, "y2": {"datum": 0},
         "color": {"field": "series", "type": "nominal", "scale": {"domain": ["G1","G2","Bulk attached (1)","Bulk detached (-1)"], "range": ["#c00000","#ffc000","#4472c4","#70ad47"]}}}}
      ]
     }
    ]
   }
  ]
 }
]
}
